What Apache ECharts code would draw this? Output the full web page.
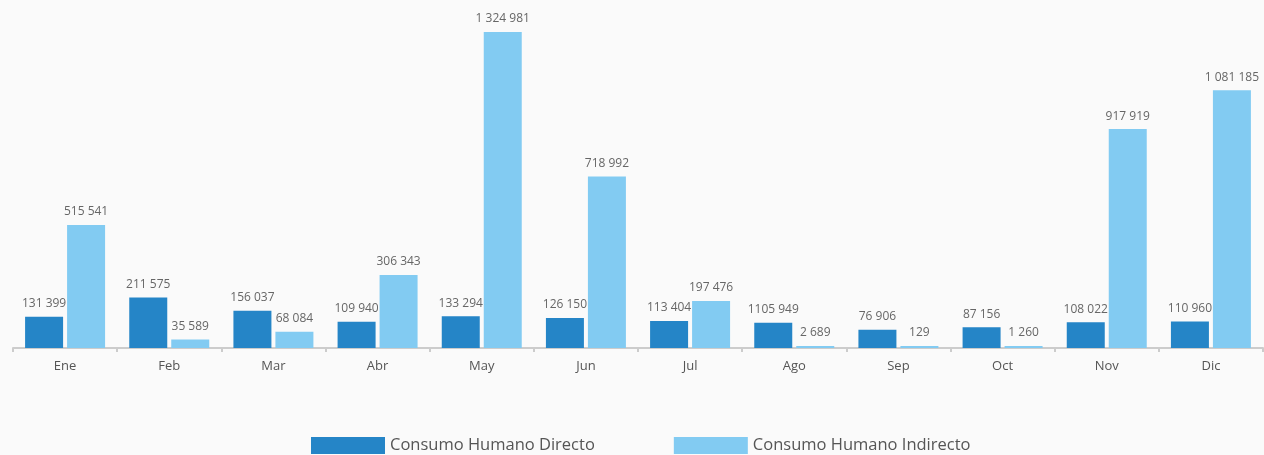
<!DOCTYPE html>
<html>
<head>
<meta charset="utf-8">
<script src="https://cdn.jsdelivr.net/npm/echarts@6/dist/echarts.min.js"></script>
<style>
  html, body { margin: 0; padding: 0; background: #fafafa; }
  #chart { width: 1264px; height: 455px; }
</style>
</head>
<body>
<div id="chart"></div>
<script>
const months = ['Ene', 'Feb', 'Mar', 'Abr', 'May', 'Jun', 'Jul', 'Ago', 'Sep', 'Oct', 'Nov', 'Dic'];
const directo = [131399, 211575, 156037, 109940, 133294, 126150, 113404, 105949, 76906, 87156, 108022, 110960];
const indirecto = [515541, 35589, 68084, 306343, 1324981, 718992, 197476, 2689, 129, 1260, 917919, 1081185];
// label text as printed in the source (Ago carries a typo there)
const directoLabels = ['131 399', '211 575', '156 037', '109 940', '133 294', '126 150', '113 404', '1105 949', '76 906', '87 156', '108 022', '110 960'];

const fmt = v => String(v).replace(/\B(?=(\d{3})+(?!\d))/g, ' ');

const chart = echarts.init(document.getElementById('chart'));
const labelStyle = { show: true, position: 'top', distance: 7, fontSize: 12, color: '#666', fontFamily: 'Open Sans' };

chart.setOption({
  backgroundColor: '#fafafa',
  textStyle: { fontFamily: 'Open Sans' },
  animation: false,
  grid: { left: 13, right: 1, top: 32, bottom: 107 },
  legend: {
    bottom: -4, left: 306,
    itemWidth: 74, itemHeight: 17, itemGap: 79,
    icon: 'rect',
    textStyle: { fontSize: 16.5, color: '#555' },
    data: ['Consumo Humano Directo', 'Consumo Humano Indirecto'],
  },
  xAxis: {
    type: 'category', data: months,
    axisLine: { lineStyle: { color: '#ccc', width: 2 } },
    axisTick: { show: true, length: 4, lineStyle: { color: '#ccc', width: 2 } },
    axisLabel: { fontSize: 13, color: '#555', margin: 12 },
  },
  yAxis: { type: 'value', min: 0, max: 'dataMax', show: false, splitLine: { show: false } },
  series: [
    {
      name: 'Consumo Humano Directo', type: 'bar', data: directo,
      barWidth: 38, barGap: '10.5%', barMinHeight: 2,
      itemStyle: { color: '#2585c7' },
      label: { ...labelStyle, formatter: p => directoLabels[p.dataIndex] },
    },
    {
      name: 'Consumo Humano Indirecto', type: 'bar', data: indirecto,
      barWidth: 38, barMinHeight: 2,
      itemStyle: { color: '#82cbf2' },
      label: { ...labelStyle, formatter: p => fmt(p.value) },
    },
  ],
});
</script>
</body>
</html>
